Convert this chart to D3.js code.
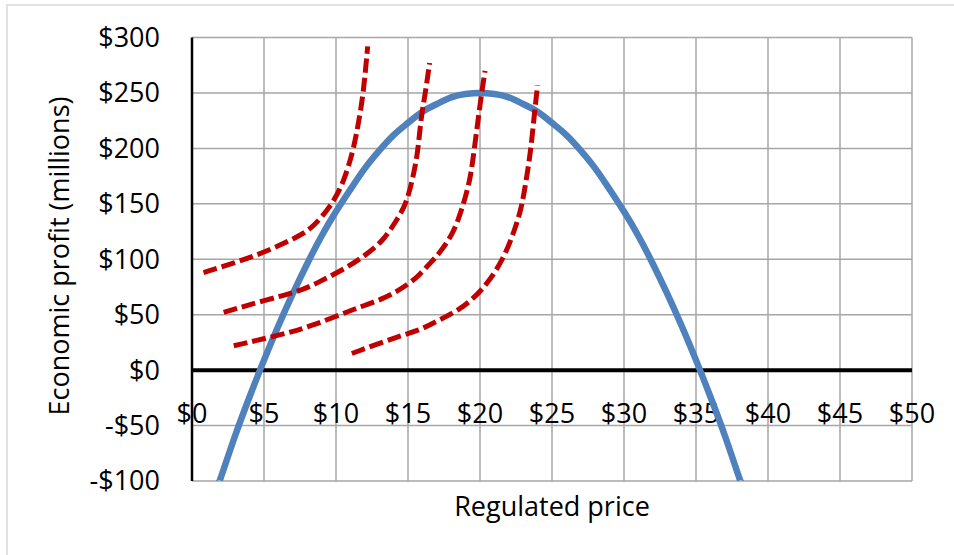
<!DOCTYPE html>
<html>
<head>
<meta charset="utf-8">
<script src="https://cdn.jsdelivr.net/npm/d3@7/dist/d3.min.js"></script>
<style>
  html, body { margin: 0; padding: 0; background: #fff; }
  svg { display: block; }
  text { font-family: "Open Sans", "Noto Sans", sans-serif; fill: #000; }
</style>
</head>
<body>
<svg id="chart" width="954" height="555"></svg>
<script>
// ---- data ----
const xTicks = [0, 5, 10, 15, 20, 25, 30, 35, 40, 45, 50];
const yTicks = [-100, -50, 0, 50, 100, 150, 200, 250, 300];
const xTickLabels = ["$0", "$5", "$10", "$15", "$20", "$25", "$30", "$35", "$40", "$45", "$50"];
const yTickLabels = ["-$100", "-$50", "$0", "$50", "$100", "$150", "$200", "$250", "$300"];
const xTitle = "Regulated price";
const yTitle = "Economic profit (millions)";

// blue profit curve
const profitPrice = [1.9, 2, 3, 4, 5, 6, 7, 8, 9, 10, 11, 12, 13, 14, 15, 16, 17, 18, 19, 20,
                     21, 22, 23, 24, 25, 26, 27, 28, 29, 30, 31, 32, 33, 34, 35, 36, 37, 38, 38.1];
const profitValue = [-100, -97, -59, -24, 9, 40, 69, 96, 121, 143, 163, 182, 198, 212, 223, 233, 240, 246, 249, 250,
                     249, 246, 240, 233, 223, 212, 198, 182, 163, 143, 121, 96, 69, 40, 9, -24, -59, -97, -100];

// red dashed curves
const iso1Price = [0.8, 3, 5, 7.5, 8.4, 9.6, 10.5, 11.2, 11.55, 11.9, 12.2];
const iso1Value = [88, 97, 106, 121, 129, 147, 168, 198, 222, 249, 292];
const iso2Price = [2.2, 5, 7.5, 8.9, 10.7, 12.1, 13.3, 14.2, 14.9, 15.4, 15.7, 15.9, 16.2, 16.5];
const iso2Value = [52, 63, 71, 80, 92, 104, 117, 135, 150, 177, 198, 228, 249, 277];
const iso3Price = [2.9, 5.9, 8.2, 11.4, 13.5, 15.1, 15.8, 16.5, 17.1, 18.15, 18.8, 19.3, 19.5, 19.8, 20.1, 20.35];
const iso3Value = [22, 31, 39, 56, 65, 78, 86, 96, 104, 123, 147, 171, 189, 219, 249, 270];
const iso4Price = [11.1, 14.2, 15.8, 16.5, 18.6, 20.2, 21.6, 22.4, 22.9, 23.2, 23.5, 23.8, 24.0];
const iso4Value = [15, 30, 36, 41, 54, 72, 99, 126, 147, 171, 195, 234, 257];

// ---- layout ----
const svg = d3.select("#chart");
const pL = 192, pR = 912, pT = 37.5, pB = 481;
const x = d3.scaleLinear().domain([0, 50]).range([pL, pR]);
const y = d3.scaleLinear().domain([-100, 300]).range([pB, pT]);

// chart area border
svg.append("rect").attr("x", 7).attr("y", 5).attr("width", 1000).attr("height", 600)
  .attr("fill", "none").attr("stroke", "#D9D9D9").attr("stroke-width", 1.5);

svg.append("defs").append("clipPath").attr("id", "plotclip")
  .append("rect").attr("x", pL).attr("y", pT).attr("width", pR - pL).attr("height", pB - pT);

// gridlines
const grid = svg.append("g");
grid.selectAll("line.v").data(xTicks.filter(d => d > 0)).join("line")
  .attr("class", "v")
  .attr("x1", d => x(d)).attr("x2", d => x(d)).attr("y1", pT).attr("y2", pB)
  .attr("stroke", "#A6A6A6").attr("stroke-width", 1.5);
grid.selectAll("line.h").data(yTicks).join("line")
  .attr("class", "h")
  .attr("x1", pL).attr("x2", pR).attr("y1", d => y(d)).attr("y2", d => y(d))
  .attr("stroke", "#A6A6A6").attr("stroke-width", 1.5);

// y axis (left) line
svg.append("line").attr("x1", pL).attr("x2", pL).attr("y1", pT).attr("y2", pB)
  .attr("stroke", "#000").attr("stroke-width", 2.5);

// y tick labels
svg.append("g").selectAll("text").data(yTicks).join("text")
  .attr("x", 160).attr("y", d => y(d)).attr("dy", "0.35em")
  .attr("text-anchor", "end").attr("font-size", 27)
  .text((d, i) => yTickLabels[i]);

// x tick labels (next to the zero axis)
svg.append("g").selectAll("text").data(xTicks).join("text")
  .attr("x", d => x(d)).attr("y", y(0) + 43).attr("dy", "0.35em")
  .attr("text-anchor", "middle").attr("font-size", 27)
  .text((d, i) => xTickLabels[i]);

// axis titles
svg.append("text").attr("x", 552).attr("y", 507).attr("dy", "0.35em")
  .attr("text-anchor", "middle").attr("font-size", 27).text(xTitle);
svg.append("text").attr("transform", "translate(60,256) rotate(-90)").attr("dy", "0.35em")
  .attr("text-anchor", "middle").attr("font-size", 27).text(yTitle);

// zero line (x axis crossing)
svg.append("line").attr("x1", pL).attr("x2", pR).attr("y1", y(0)).attr("y2", y(0))
  .attr("stroke", "#000").attr("stroke-width", 4);

// series
const plot = svg.append("g").attr("clip-path", "url(#plotclip)");
const blueLine = d3.line().x(d => x(d[0])).y(d => y(d[1])).curve(d3.curveNatural);
const redLine = d3.line().x(d => x(d[0])).y(d => y(d[1])).curve(d3.curveBasis);

plot.append("path").datum(d3.zip(profitPrice, profitValue))
  .attr("d", blueLine).attr("fill", "none").attr("stroke", "#4F81BD").attr("stroke-width", 6.5);

const isoSets = [[iso1Price, iso1Value], [iso2Price, iso2Value], [iso3Price, iso3Value], [iso4Price, iso4Value]];
isoSets.forEach(([px, py]) => {
  plot.append("path").datum(d3.zip(px, py))
    .attr("d", redLine).attr("fill", "none").attr("stroke", "#C00000")
    .attr("stroke-width", 5).attr("stroke-dasharray", "14,5");
});
</script>
</body>
</html>
